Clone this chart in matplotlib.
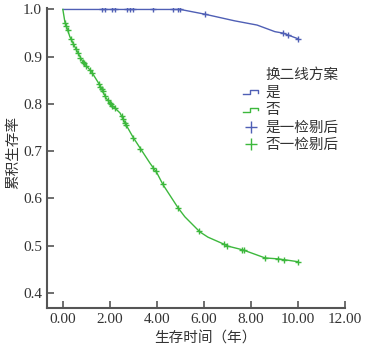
import numpy as np
import matplotlib.pyplot as plt
from matplotlib.lines import Line2D
from matplotlib.legend_handler import HandlerBase

plt.rcParams['font.family'] = ['Liberation Serif', 'Noto Sans CJK SC']

# KM CURVES
yes_t = [0, 5.0, 6.04, 7.3, 8.26, 9.02, 9.36, 10.0]
yes_s = [1.0, 1.0, 0.990, 0.976, 0.967, 0.953, 0.950, 0.938]
yes_cens = [1.65, 1.79, 2.07, 2.21, 2.71, 2.85, 2.98, 3.83, 4.68, 4.89,
            4.98, 6.04, 9.36, 9.57, 10.0]

no_t = [0, 0.085, 0.30, 0.58, 0.84, 1.22, 1.57, 1.83, 2.07, 2.43, 2.64,
        2.98, 3.28, 3.70, 4.0, 4.26, 4.9, 5.19, 5.83, 6.17, 6.81, 7.02,
        7.66, 8.6, 9.15, 9.45, 10.0]
no_s = [1.0, 0.974, 0.942, 0.914, 0.890, 0.868, 0.840, 0.813, 0.798, 0.781,
        0.760, 0.730, 0.707, 0.675, 0.654, 0.629, 0.580, 0.561, 0.529, 0.518,
        0.504, 0.499, 0.491, 0.474, 0.472, 0.470, 0.466]
no_cens = [0.1, 0.15, 0.2, 0.35, 0.45, 0.55, 0.65, 0.75, 0.85, 0.9, 1.0,
           1.15, 1.25, 1.55, 1.6, 1.65, 1.7, 1.8, 1.9, 2.0, 2.05, 2.1, 2.2,
           2.5, 2.55, 2.65, 2.7, 3.0, 3.3, 3.85, 3.95, 4.25, 4.9, 5.8, 6.85,
           7.0, 7.6, 7.7, 8.6, 9.15, 9.4, 10.0]

legend_title = "换二线方案"
legend_labels = ["是", "否", "是一检剔后", "否一检剔后"]

blue = "#4f5fb5"
green = "#3db83d"
text_c = "#333333"


class HandlerStep(HandlerBase):
    def create_artists(self, legend, orig_handle, xdescent, ydescent,
                       width, height, fontsize, trans):
        x0 = -xdescent + width * 0.05
        x1 = -xdescent + width * 0.85
        xm = (x0 + x1) / 2
        lo = -ydescent + height * 0.2
        hi = -ydescent + height * 0.6
        line = Line2D([x0, xm, xm, x1, x1], [lo, lo, hi, hi, lo + 0.15 * height],
                      color=orig_handle.get_color(), lw=1, transform=trans)
        return [line]


fig = plt.figure(figsize=(3.69, 3.5), dpi=100)
ax = fig.add_axes([0.127, 0.12, 0.808, 0.857])

ax.plot(yes_t, yes_s, color=blue, lw=1)
ax.plot(no_t, no_s, color=green, lw=1)
ax.plot(yes_cens, np.interp(yes_cens, yes_t, yes_s), ls="none", marker="+",
        color=blue, ms=5, mew=1)
ax.plot(no_cens, np.interp(no_cens, no_t, no_s), ls="none", marker="+",
        color=green, ms=5, mew=1)

ax.set_xlim(-0.68, 12.0)
ax.set_ylim(0.368, 1.003)
ax.set_xticks([0, 2, 4, 6, 8, 10, 12])
ax.set_xticklabels(["0.00", "2.00", "4.00", "6.00", "8.00", "10.00", "12.00"])
ax.set_yticks([0.4, 0.5, 0.6, 0.7, 0.8, 0.9, 1.0])
ax.tick_params(direction="in", length=5, width=1.2, color="#555555",
               labelsize=11, labelcolor=text_c)
for side in ["top", "right"]:
    ax.spines[side].set_visible(False)
for side in ["left", "bottom"]:
    ax.spines[side].set_color("#555555")
    ax.spines[side].set_linewidth(1.5)

ax.set_xlabel("生存时间（年）", fontsize=10.5, color=text_c)
ax.set_ylabel("累积生存率", fontsize=10.5, color=text_c)
ax.xaxis.set_label_coords(0.53, -0.08)
ax.yaxis.set_label_coords(-0.09, 0.52)

# LEGEND (title drawn as text so it lines up with the labels)
h_yes = Line2D([], [], color=blue, lw=1)
h_no = Line2D([], [], color=green, lw=1)
h_yes_c = Line2D([], [], color=blue, ls="none", marker="+", ms=9, mew=1)
h_no_c = Line2D([], [], color=green, ls="none", marker="+", ms=9, mew=1)
leg = ax.legend([h_yes, h_no, h_yes_c, h_no_c], legend_labels,
                loc="upper left", bbox_to_anchor=(0.654, 0.74),
                borderpad=0, borderaxespad=0, frameon=False, fontsize=10.5,
                handlelength=1.3, handletextpad=0.35, labelspacing=0.3,
                handler_map={h_yes: HandlerStep(), h_no: HandlerStep()})
for t in leg.get_texts():
    t.set_color(text_c)
ax.text(0.732, 0.777, legend_title, transform=ax.transAxes, fontsize=10.5,
        color=text_c, ha="left", va="center")

fig.savefig("out.png", dpi=100, facecolor="white")
